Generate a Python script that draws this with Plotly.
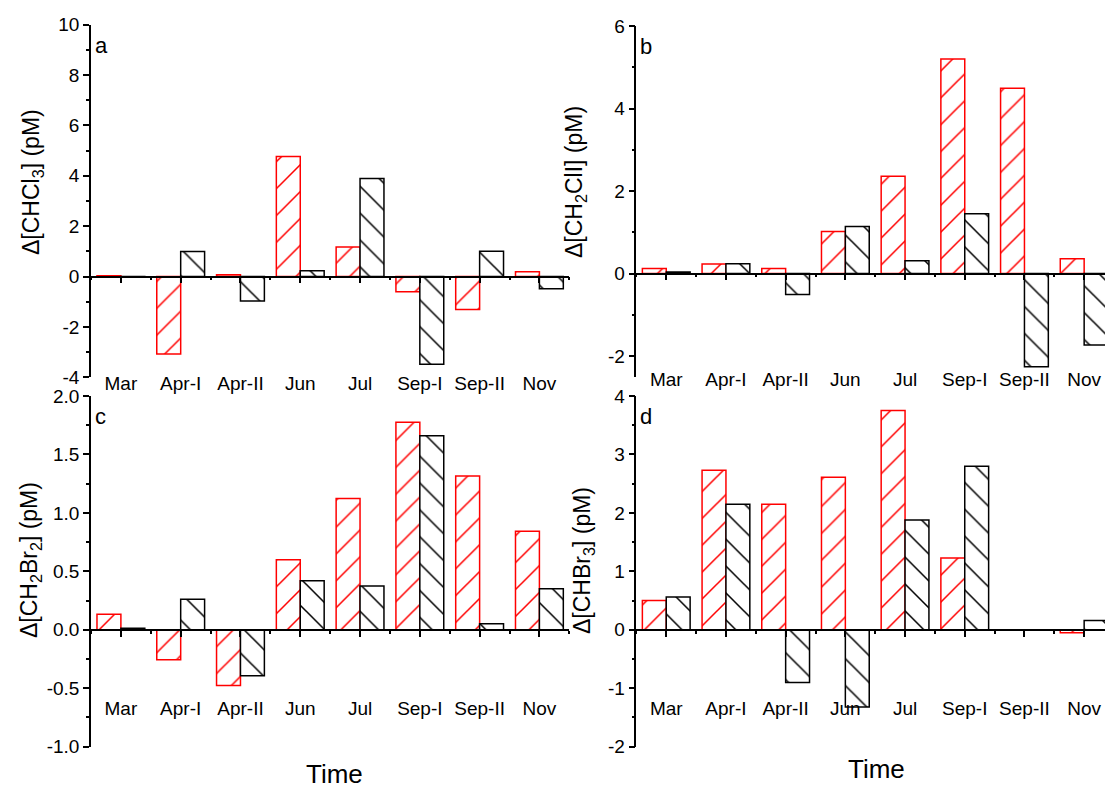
import plotly.graph_objects as go

categories = ["Mar", "Apr-I", "Apr-II", "Jun", "Jul", "Sep-I", "Sep-II", "Nov"]

a_red = [0.03, -3.07, 0.07, 4.77, 1.17, -0.60, -1.31, 0.19]
a_black = [-0.02, 0.99, -0.97, 0.23, 3.89, -3.48, 1.00, -0.48]
b_red = [0.12, 0.23, 0.12, 1.02, 2.36, 5.20, 4.49, 0.36]
b_black = [0.04, 0.24, -0.51, 1.14, 0.31, 1.45, -2.26, -1.73]
c_red = [0.134, -0.257, -0.476, 0.60, 1.123, 1.776, 1.315, 0.844]
c_black = [0.014, 0.262, -0.394, 0.42, 0.374, 1.66, 0.051, 0.351]
d_red = [0.50, 2.73, 2.15, 2.61, 3.75, 1.23, None, -0.05]
d_black = [0.56, 2.15, -0.90, -1.32, 1.88, 2.80, None, 0.16]

a_yticks = [-4, -2, 0, 2, 4, 6, 8, 10]
b_yticks = [-2, 0, 2, 4, 6]
c_yticks = [-1.0, -0.5, 0.0, 0.5, 1.0, 1.5, 2.0]
d_yticks = [-2, -1, 0, 1, 2, 3, 4]

W, H = 1105, 787
FONT = "Liberation Sans, Arial, sans-serif"


def fmt_tick(v, dec):
    return f"{v:.{dec}f}"  # plain hyphen-minus as in the reference


panels = [
    dict(key="", red=a_red, black=a_black, xpx=(91, 569.3), ypx=(24.7, 377.3),
         yr=(-4, 10), ticks=a_yticks, dec=0, mdt=1, xr=(-0.5, 7.5), letter="a",
         ytitle="Δ[CHCl<sub>3</sub>] (pM)", tpos=(32, 182), standoff=84),
    dict(key="2", red=b_red, black=b_black, xpx=(636.4, 1105), ypx=(26, 376.7),
         yr=(-2.5, 6), ticks=b_yticks, dec=0, mdt=1, xr=(-0.5, -0.5 + (1105 - 636.4) / 59.7), letter="b",
         ytitle="Δ[CH<sub>2</sub>ClI] (pM)", tpos=(575, 182), standoff=83),
    dict(key="3", red=c_red, black=c_black, xpx=(91, 569.3), ypx=(396, 746.7),
         yr=(-1, 2), ticks=c_yticks, dec=1, mdt=0.25, xr=(-0.5, 7.5), letter="c",
         ytitle="Δ[CH<sub>2</sub>Br<sub>2</sub>] (pM)", tpos=(30, 560), standoff=56),
    dict(key="4", red=d_red, black=d_black, xpx=(636.4, 1105), ypx=(396, 746.7),
         yr=(-2, 4), ticks=d_yticks, dec=0, mdt=0.5, xr=(-0.5, -0.5 + (1105 - 636.4) / 59.7), letter="d",
         ytitle="Δ[CHBr<sub>3</sub>] (pM)", tpos=(583, 561), standoff=56),
]

fig = go.Figure()
annotations = []
layout = {}
xs = list(range(len(categories)))

for p in panels:
    k = p["key"]
    xref = "x" + k
    yref = "y" + k
    fig.add_trace(go.Bar(
        x=xs, y=p["red"], xaxis=xref, yaxis=yref, showlegend=False,
        marker=dict(color="white", line=dict(color="red", width=1.5),
                    pattern=dict(shape="/", fgcolor="red", bgcolor="white", fgopacity=1,
                                 size=19, solidity=0.08)),
    ))
    fig.add_trace(go.Bar(
        x=xs, y=p["black"], xaxis=xref, yaxis=yref, showlegend=False,
        marker=dict(color="white", line=dict(color="black", width=1.5),
                    pattern=dict(shape="\\", fgcolor="black", bgcolor="white", fgopacity=1,
                                 size=19, solidity=0.08)),
    ))
    xd = [p["xpx"][0] / W, p["xpx"][1] / W]
    yd = [1 - p["ypx"][1] / H, 1 - p["ypx"][0] / H]
    y0, y1 = p["yr"]
    zero_pos = yd[0] + (0 - y0) / (y1 - y0) * (yd[1] - yd[0])
    layout["xaxis" + k] = dict(
        domain=xd, range=list(p["xr"]), type="linear", anchor="free", position=zero_pos,
        tickmode="array", tickvals=xs, ticktext=categories,
        ticks="outside", ticklen=6, tickwidth=1.5, tickcolor="black",
        minor=dict(tickvals=[i + 0.5 for i in range(-1, len(categories))], ticks="outside",
                   ticklen=3, tickwidth=1.5, tickcolor="black"),
        showline=True, linecolor="black", linewidth=1.5, showgrid=False, zeroline=False,
        ticklabelstandoff=p["standoff"], tickfont=dict(size=19, color="black", family=FONT),
    )
    layout["yaxis" + k] = dict(
        domain=yd, range=[y0, y1], anchor=xref,
        tickmode="array", tickvals=p["ticks"], ticktext=[fmt_tick(v, p["dec"]) for v in p["ticks"]],
        ticks="outside", ticklen=6, tickwidth=1.5, tickcolor="black",
        minor=dict(dtick=p["mdt"], tick0=0, ticks="outside", ticklen=3, tickwidth=1.5, tickcolor="black"),
        showline=True, linecolor="black", linewidth=1.5, showgrid=False, zeroline=False,
        tickfont=dict(size=19, color="black", family=FONT),
    )
    annotations.append(dict(
        text=p["letter"], xref="paper", yref="paper", showarrow=False,
        x=(p["xpx"][0] + 2) / W, y=1 - (p["ypx"][0] + 6) / H, xanchor="left", yanchor="top",
        font=dict(size=22, color="black", family=FONT),
    ))
    annotations.append(dict(
        text=p["ytitle"], xref="paper", yref="paper", showarrow=False, textangle=-90,
        x=p["tpos"][0] / W, y=1 - p["tpos"][1] / H, xanchor="center", yanchor="middle",
        font=dict(size=23, color="black", family=FONT),
    ))

annotations.append(dict(text="Time", xref="paper", yref="paper", showarrow=False,
                        x=334 / W, y=1 - 774 / H, xanchor="center", yanchor="middle",
                        font=dict(size=26, color="black", family=FONT)))
annotations.append(dict(text="Time", xref="paper", yref="paper", showarrow=False,
                        x=876 / W, y=1 - 769 / H, xanchor="center", yanchor="middle",
                        font=dict(size=26, color="black", family=FONT)))

fig.update_layout(
    width=W, height=H, autosize=False,
    margin=dict(l=0, r=0, t=0, b=0, autoexpand=False),
    paper_bgcolor="white", plot_bgcolor="white",
    barmode="group", bargap=0.2, bargroupgap=0,
    font=dict(family=FONT, color="black"),
    annotations=annotations,
    **layout,
)

fig.write_html(
    "out.html",
    config={"displayModeBar": False},
    post_script="document.body.style.margin='0';document.body.style.overflow='hidden';",
)
